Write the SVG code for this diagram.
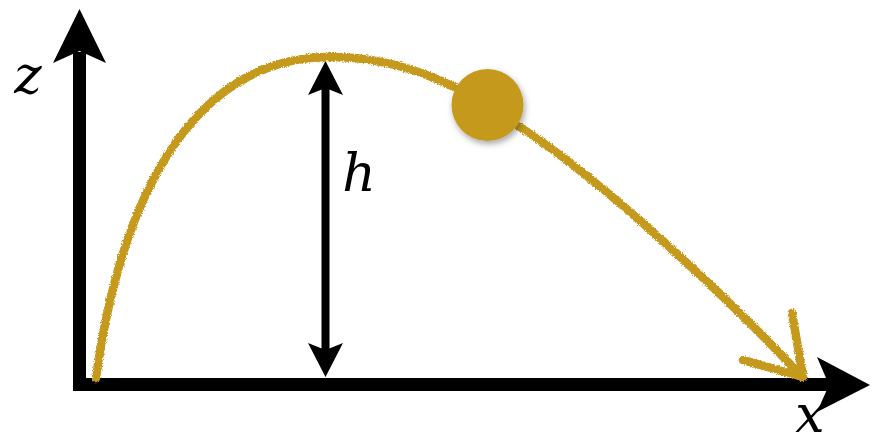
<svg xmlns="http://www.w3.org/2000/svg" width="872" height="445" viewBox="0 0 872 445">
  <style>
    .axis { fill: #000; }
    .label { font-family: "DejaVu Serif", serif; font-style: italic; font-size: 52px; fill: #000; text-anchor: middle; }
    .chalk { fill: none; stroke: #c4991e; stroke-linecap: round; stroke-linejoin: round; }
  </style>
  <defs>
    <filter id="rough" x="-5%" y="-5%" width="110%" height="110%">
      <feTurbulence type="fractalNoise" baseFrequency="0.9" numOctaves="2" seed="3" result="noise"/>
      <feDisplacementMap in="SourceGraphic" in2="noise" scale="4" xChannelSelector="R" yChannelSelector="G"/>
    </filter>
    <filter id="shadow" x="-30%" y="-30%" width="160%" height="160%">
      <feDropShadow dx="1.5" dy="3" stdDeviation="3" flood-color="#000" flood-opacity="0.35"/>
    </filter>
  </defs>

  <g id="z-axis">
    <rect class="axis" x="73" y="52" width="13" height="339"/>
    <polygon class="axis" points="79.5,9 106,63 79.5,51 53,63"/>
  </g>
  <g id="x-axis">
    <rect class="axis" x="73" y="378" width="760" height="13"/>
    <polygon class="axis" points="870,385 817,357 829,385 817,412"/>
  </g>

  <g id="height-arrow">
    <rect class="axis" x="321.5" y="80" width="8" height="280"/>
    <polygon class="axis" points="325.5,61 343,95 325.5,88 308,95"/>
    <polygon class="axis" points="325.5,377 343,343 325.5,350 308,343"/>
  </g>

  <g id="trajectory" filter="url(#rough)">
    <path class="chalk" stroke-width="8.5" d="M96,378 C124,175 205,57 330,57 C410,57 468,91 520,127 C610,185 745,315 802,377"/>
    <path class="chalk" stroke-width="8.5" d="M792,313 L803,377 M743,360 L803,377"/>
  </g>

  <g id="ball">
    <circle cx="487.5" cy="105" r="36" fill="#c4991e" filter="url(#shadow)"/>
  </g>

  <g id="labels">
    <text id="label-z" class="label" x="28" y="93">z</text>
    <text id="label-h" class="label" x="359" y="191">h</text>
    <text id="label-x" class="label" x="810" y="432">x</text>
  </g>
</svg>
